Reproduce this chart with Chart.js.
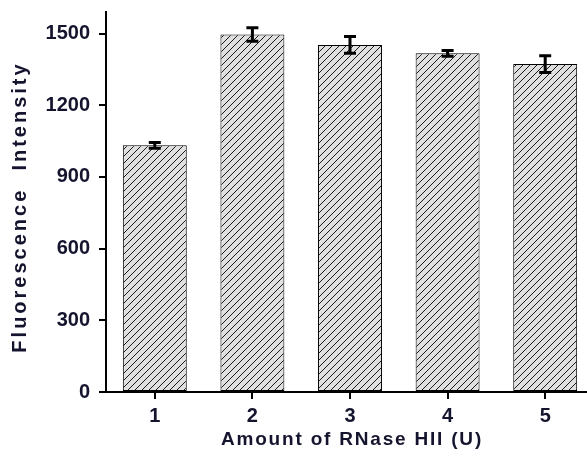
<!DOCTYPE html>
<html>
<head>
<meta charset="utf-8">
<script src="https://cdn.jsdelivr.net/npm/chart.js@4.4.1/dist/chart.umd.min.js"></script>
<style>
  html, body { margin: 0; padding: 0; background: #fff; overflow: hidden; }
  #wrap { width: 600px; height: 459px; }
</style>
</head>
<body>
<div id="wrap"><canvas id="c" width="600" height="459"></canvas></div>
<script>
var categories = ['1', '2', '3', '4', '5'];
var intensity = [1032, 1496, 1452, 1417, 1372];
var errors = [12, 28, 35, 12, 35];
var yTicks = [0, 300, 600, 900, 1200, 1500];
var xTitle = 'Amount of RNase HII (U)';
var yTitle = 'Fluorescence  Intensity';

var textColor = '#14142e';

function hatch() {
    var p = document.createElement('canvas');
    p.width = 7; p.height = 7;
    var g = p.getContext('2d');
    g.fillStyle = '#e0e0e0';
    g.fillRect(0, 0, 7, 7);
    g.strokeStyle = '#1a1a1a';
    g.lineWidth = 1;
    g.beginPath();
    g.moveTo(-1, 8); g.lineTo(8, -1);
    g.moveTo(-4.5, 4.5); g.lineTo(4.5, -4.5);
    g.moveTo(2.5, 11.5); g.lineTo(11.5, 2.5);
    g.stroke();
    return g.createPattern(p, 'repeat');
}

var errorBars = {
    id: 'errorBars',
    afterDatasetsDraw: function (chart) {
        var ctx = chart.ctx;
        var y = chart.scales.y;
        var meta = chart.getDatasetMeta(0);
        ctx.save();
        ctx.strokeStyle = '#000';
        ctx.lineWidth = 3;
        meta.data.forEach(function (bar, i) {
            var top = y.getPixelForValue(intensity[i] + errors[i]);
            var bot = y.getPixelForValue(intensity[i] - errors[i]);
            ctx.beginPath();
            ctx.moveTo(bar.x, top); ctx.lineTo(bar.x, bot);
            ctx.moveTo(bar.x - 6, top); ctx.lineTo(bar.x + 6, top);
            ctx.moveTo(bar.x - 6, bot); ctx.lineTo(bar.x + 6, bot);
            ctx.stroke();
        });
        ctx.restore();
    }
};

// axis titles drawn here so each can get its own letter spacing
var titles = {
    id: 'titles',
    afterDraw: function (chart) {
        var ctx = chart.ctx;
        ctx.save();
        ctx.fillStyle = textColor;
        ctx.textAlign = 'center';
        ctx.textBaseline = 'middle';
        ctx.font = 'bold 19px "Liberation Sans"';
        ctx.letterSpacing = '1.8px';
        ctx.fillText(xTitle, 352, 440);
        ctx.translate(20, 207);
        ctx.rotate(-Math.PI / 2);
        ctx.font = 'bold 20px "Liberation Sans"';
        ctx.letterSpacing = '3px';
        ctx.fillText(yTitle, 0, 0);
        ctx.restore();
    }
};

new Chart(document.getElementById('c'), {
    type: 'bar',
    data: {
        labels: categories,
        datasets: [{
            data: intensity,
            backgroundColor: hatch(),
            borderColor: '#000',
            borderWidth: 1,
            borderSkipped: false,
            barPercentage: 0.655,
            categoryPercentage: 1
        }]
    },
    options: {
        responsive: false,
        animation: false,
        layout: { padding: { top: 12, right: 6, left: 0, bottom: 0 } },
        plugins: { legend: { display: false }, tooltip: { enabled: false } },
        scales: {
            x: {
                offset: true,
                grid: { offset: false, drawOnChartArea: false, color: '#000', lineWidth: 2, tickLength: 7 },
                border: { color: '#000', width: 2 },
                ticks: { color: textColor, font: { family: 'Liberation Sans', size: 20, weight: 'bold' }, padding: 5 },
                afterFit: function (s) { s.height = 67; s.paddingLeft = 0; s.paddingRight = 0; }
            },
            y: {
                min: 0,
                max: 1590,
                grid: { drawOnChartArea: false, color: '#000', lineWidth: 2, tickLength: 7 },
                border: { color: '#000', width: 2 },
                ticks: {
                    color: textColor,
                    font: { family: 'Liberation Sans', size: 20, weight: 'bold' },
                    padding: 9,
                    callback: function (v) { return String(v); }
                },
                afterBuildTicks: function (s) {
                    s.ticks = yTicks.map(function (v) { return { value: v }; });
                },
                afterFit: function (s) { s.width = 106; s.paddingTop = 0; s.paddingBottom = 0; }
            }
        }
    },
    plugins: [errorBars, titles]
});
</script>
</body>
</html>
